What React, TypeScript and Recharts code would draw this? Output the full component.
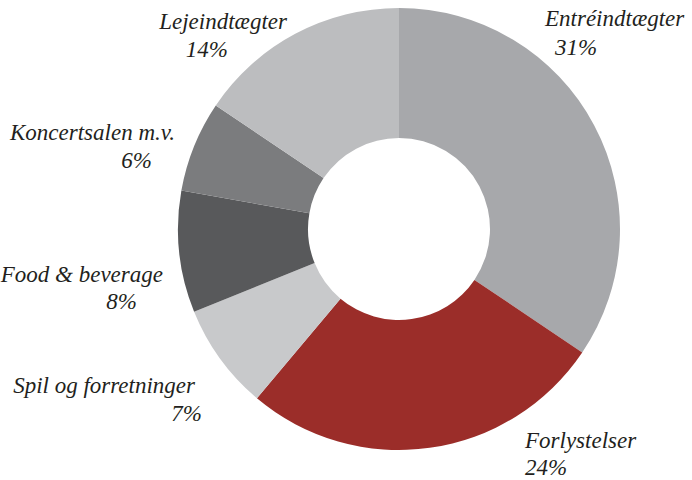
import { PieChart, Pie, Cell } from "recharts";

const categories = [
  "Entréindtægter",
  "Forlystelser",
  "Spil og forretninger",
  "Food & beverage",
  "Koncertsalen m.v.",
  "Lejeindtægter",
];
const shares = [31, 24, 7, 8, 6, 14];
const colors = ["#a7a8ab", "#9b2d29", "#c8c9cb", "#58595b", "#7b7c7e", "#bcbdbf"];

// label placement: anchor, name line (x, y), percent line (x, y)
const labelPos = [
  { anchor: "start", nx: 545, ny: 26, px: 555, py: 55 },
  { anchor: "start", nx: 525, ny: 448, px: 525, py: 475 },
  { anchor: "end", nx: 195, ny: 393, px: 202, py: 421 },
  { anchor: "end", nx: 163, ny: 282, px: 137, py: 309 },
  { anchor: "end", nx: 175, ny: 140, px: 152, py: 168 },
  { anchor: "end", nx: 287, ny: 29, px: 228, py: 57 },
];

const data = categories.map((name, i) => ({ name, value: shares[i] }));

function renderLabel(props: any) {
  const i = props.index;
  const p = labelPos[i];
  const common = {
    textAnchor: p.anchor,
    fontFamily: "'Times New Roman', Tinos, 'Liberation Serif'",
    fontStyle: "italic",
    fontSize: 23,
    fill: "#231f20",
  };
  return (
    <g key={"lbl" + i}>
      <text x={p.nx} y={p.ny} {...common}>
        {categories[i]}
      </text>
      <text x={p.px} y={p.py} {...common}>
        {shares[i] + "%"}
      </text>
    </g>
  );
}

export default function App() {
  return (
    <div style={{ width: 692, height: 480, background: "#fff" }}>
      <style>{"body{margin:0}"}</style>
      <PieChart width={692} height={480} margin={{ top: 0, right: 0, bottom: 0, left: 0 }}>
        <Pie
          data={data}
          dataKey="value"
          nameKey="name"
          cx={399}
          cy={229}
          innerRadius={91}
          outerRadius={221}
          startAngle={90}
          endAngle={-270}
          stroke="none"
          label={renderLabel}
          labelLine={false}
          isAnimationActive={false}
        >
          {data.map((d, i) => (
            <Cell key={d.name} fill={colors[i]} />
          ))}
        </Pie>
      </PieChart>
    </div>
  );
}
